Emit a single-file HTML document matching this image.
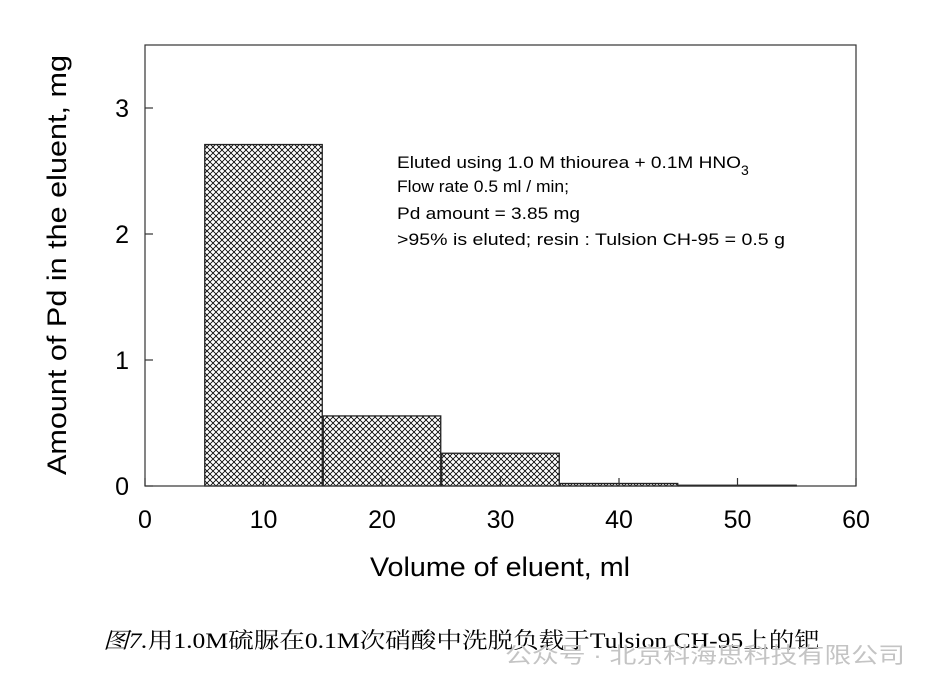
<!DOCTYPE html>
<html><head><meta charset="utf-8"><style>
body{margin:0;background:#fff;}
svg text{font-family:"Liberation Sans",Arial,sans-serif;}
</style></head><body>
<svg width="938" height="692" viewBox="0 0 938 692">
<defs>
<pattern id="hatch" width="6" height="6" patternUnits="userSpaceOnUse">
<rect width="6" height="6" fill="#fff"/>
<path d="M0,0L6,6M6,0L0,6" stroke="#000" stroke-width="0.8"/>
</pattern>
</defs>
<g id="plot"></g>
<text x="370" y="576" font-size="27" textLength="260" lengthAdjust="spacingAndGlyphs">Volume of eluent, ml</text>
<text transform="translate(66,475) rotate(-90)" font-size="27" textLength="420" lengthAdjust="spacingAndGlyphs">Amount of Pd in the eluent, mg</text>
<g font-size="17">
<text x="397" y="168"><tspan textLength="344" lengthAdjust="spacingAndGlyphs">Eluted using 1.0 M thiourea + 0.1M HNO</tspan><tspan font-size="14" dy="7">3</tspan></text>
<text x="397" y="192" textLength="172" lengthAdjust="spacingAndGlyphs">Flow rate 0.5 ml / min;</text>
<text x="397" y="219" textLength="183" lengthAdjust="spacingAndGlyphs">Pd amount = 3.85 mg</text>
<text x="397" y="245" textLength="388" lengthAdjust="spacingAndGlyphs">&gt;95% is eluted; resin : Tulsion CH-95 = 0.5 g</text>
</g>
<text x="103" y="648" font-size="22" textLength="717" lengthAdjust="spacingAndGlyphs" style="font-family:'Liberation Serif','Noto Serif CJK SC',serif"><tspan font-style="italic">图7.</tspan>用1.0M硫脲在0.1M次硝酸中洗脱负载于Tulsion CH-95上的钯</text>
<text x="505" y="663" font-size="22" textLength="400" lengthAdjust="spacingAndGlyphs" fill="#c4c4c4" style="font-family:'Liberation Sans','Noto Sans CJK SC',sans-serif">公众号 · 北京科海思科技有限公司</text>
</svg>
<script>
const binStarts=[5,15,25,35,45];
const binWidth=10;
const amounts=[2.71,0.556,0.26,0.02,0.006];
const xTicks=[0,10,20,30,40,50,60];
const yTicks=[0,1,2,3];
const X0=145,X1=856,Y0=486,Y1=45;
const xs=v=>X0+(v-0)/(60-0)*(X1-X0);
const ys=v=>Y0-v*126;
const NS="http://www.w3.org/2000/svg";
const g=document.getElementById('plot');
function mk(t,a){const e=document.createElementNS(NS,t);for(const k in a)e.setAttribute(k,a[k]);g.appendChild(e);return e;}
amounts.forEach((v,i)=>{
const x=xs(binStarts[i]),w=xs(binStarts[i]+binWidth)-x,y=ys(v);
const r=mk('rect',{x:x+0.5,y:y,width:w-1,height:Y0-y,fill:'url(#hatch)',stroke:'#222','stroke-width':1.3});


});
const f=mk('rect',{x:X0,y:Y1,width:X1-X0,height:Y0-Y1,fill:'none',stroke:'#333','stroke-width':1.2});


xTicks.forEach(t=>{
const x=xs(t);
mk('line',{x1:x,x2:x,y1:Y0,y2:Y0-8,stroke:'#333','stroke-width':1.2});
const tx=mk('text',{x:x,y:Y0+42,'font-size':25,'text-anchor':'middle'});
tx.textContent=t;


});
yTicks.forEach(t=>{
const y=ys(t);
mk('line',{x1:X0,x2:X0+8,y1:y,y2:y,stroke:'#333','stroke-width':1.2});
const tx=mk('text',{x:X0-16,y:y+9,'font-size':25,'text-anchor':'end'});
tx.textContent=t;


});
</script>
</body></html>
